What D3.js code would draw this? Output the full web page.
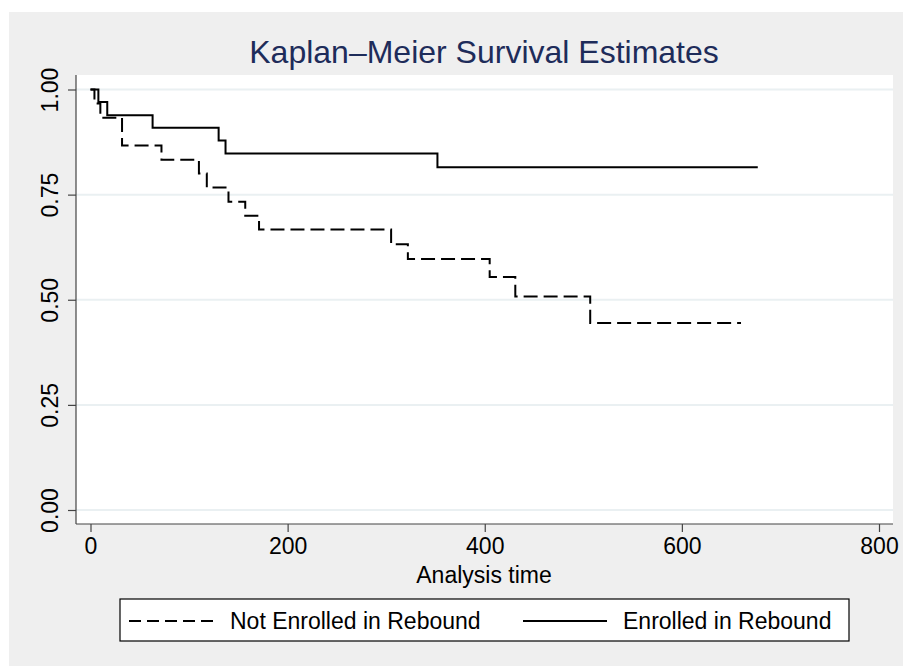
<!DOCTYPE html>
<html>
<head>
<meta charset="utf-8">
<script src="https://cdn.jsdelivr.net/npm/d3@7"></script>
<style>
  body { margin: 0; background: #fff; }
  text { font-family: "Liberation Sans", Arial, sans-serif; }
</style>
</head>
<body>
<script>
var svgWidth = 903;
var svgHeight = 666;

// Kaplan-Meier step data
var notEnrolledTimes = [0, 4, 10, 32, 72, 110, 118, 140, 157, 171, 305, 322, 405, 431, 507, 660];
var notEnrolledSurv  = [1, 0.967, 0.933, 0.867, 0.833, 0.800, 0.767, 0.733, 0.700, 0.667, 0.632, 0.597, 0.554, 0.508, 0.445, 0.445];
var enrolledTimes = [0, 8, 17, 63, 130, 137, 352, 677];
var enrolledSurv  = [1, 0.970, 0.939, 0.909, 0.879, 0.848, 0.815, 0.815];

var xTicks = [0, 200, 400, 600, 800];
var yTicks = [0, 0.25, 0.5, 0.75, 1];
var legendLabels = ["Not Enrolled in Rebound", "Enrolled in Rebound"];

var svg = d3.select("body").append("svg").attr("width", svgWidth).attr("height", svgHeight);

// outer gray background
svg.append("rect").attr("x", 9).attr("y", 12).attr("width", svgWidth - 9).attr("height", svgHeight - 12)
    .attr("fill", "#efefef");

var plot = { left: 76, right: 893, top: 75, bottom: 524 };

svg.append("rect").attr("x", plot.left).attr("y", plot.top)
    .attr("width", plot.right - plot.left).attr("height", plot.bottom - plot.top)
    .attr("fill", "#fff");

var x = d3.scaleLinear().domain([0, 800]).range([90.5, 879]);
var y = d3.scaleLinear().domain([0, 1]).range([510, 89.5]);

// grid lines
svg.append("g").selectAll("line").data(yTicks).join("line")
    .attr("x1", plot.left).attr("x2", plot.right)
    .attr("y1", function(d) { return y(d); }).attr("y2", function(d) { return y(d); })
    .attr("stroke", "#eaf0f2").attr("stroke-width", 2);

// title
svg.append("text").attr("x", 484).attr("y", 63).attr("text-anchor", "middle")
    .attr("font-size", 32).attr("fill", "#1e2c5a").text("Kaplan\u2013Meier Survival Estimates");

// axes
var xAxis = svg.append("g").attr("transform", "translate(0," + plot.bottom + ")")
    .call(d3.axisBottom(x).tickValues(xTicks).tickSize(8).tickSizeOuter(0).tickPadding(4));
xAxis.select(".domain").remove();
xAxis.selectAll("text").attr("font-size", 23).attr("fill", "#000").attr("dy", "0.8em");

var yAxis = svg.append("g").attr("transform", "translate(" + plot.left + ",0)")
    .call(d3.axisLeft(y).tickValues(yTicks).tickSize(8).tickSizeOuter(0).tickFormat(d3.format(".2f")));
yAxis.select(".domain").remove();
yAxis.selectAll("text")
    .attr("font-size", 23).attr("fill", "#000")
    .attr("text-anchor", "middle").attr("x", null).attr("dy", null)
    .attr("transform", "translate(-18,0) rotate(-90)");

svg.selectAll(".tick line").attr("stroke", "#444").attr("stroke-width", 1.2);

svg.append("line").attr("x1", plot.left).attr("x2", plot.left).attr("y1", plot.top).attr("y2", plot.bottom)
    .attr("stroke", "#444").attr("stroke-width", 1.2);
svg.append("line").attr("x1", plot.left).attr("x2", plot.right).attr("y1", plot.bottom).attr("y2", plot.bottom)
    .attr("stroke", "#444").attr("stroke-width", 1.2);

svg.append("text").attr("x", 484).attr("y", 583).attr("text-anchor", "middle")
    .attr("font-size", 23).text("Analysis time");

// survival curves
var line = d3.line()
    .x(function(d) { return x(d[0]); })
    .y(function(d) { return y(d[1]); })
    .curve(d3.curveStepAfter);

svg.append("path").datum(d3.zip(notEnrolledTimes, notEnrolledSurv))
    .attr("d", line).attr("fill", "none").attr("stroke", "#000")
    .attr("stroke-width", 2).attr("stroke-dasharray", "14,6");

svg.append("path").datum(d3.zip(enrolledTimes, enrolledSurv))
    .attr("d", line).attr("fill", "none").attr("stroke", "#000")
    .attr("stroke-width", 2);

// legend
svg.append("rect").attr("x", 120).attr("y", 599).attr("width", 729).attr("height", 42)
    .attr("fill", "#fff").attr("stroke", "#000").attr("stroke-width", 1.2);

svg.append("line").attr("x1", 129).attr("x2", 215).attr("y1", 621).attr("y2", 621)
    .attr("stroke", "#000").attr("stroke-width", 2).attr("stroke-dasharray", "12,6");
svg.append("text").attr("x", 230).attr("y", 629).attr("font-size", 23).text(legendLabels[0]);

svg.append("line").attr("x1", 523).attr("x2", 607).attr("y1", 621).attr("y2", 621)
    .attr("stroke", "#000").attr("stroke-width", 2);
svg.append("text").attr("x", 623).attr("y", 629).attr("font-size", 23).text(legendLabels[1]);
</script>
</body>
</html>
